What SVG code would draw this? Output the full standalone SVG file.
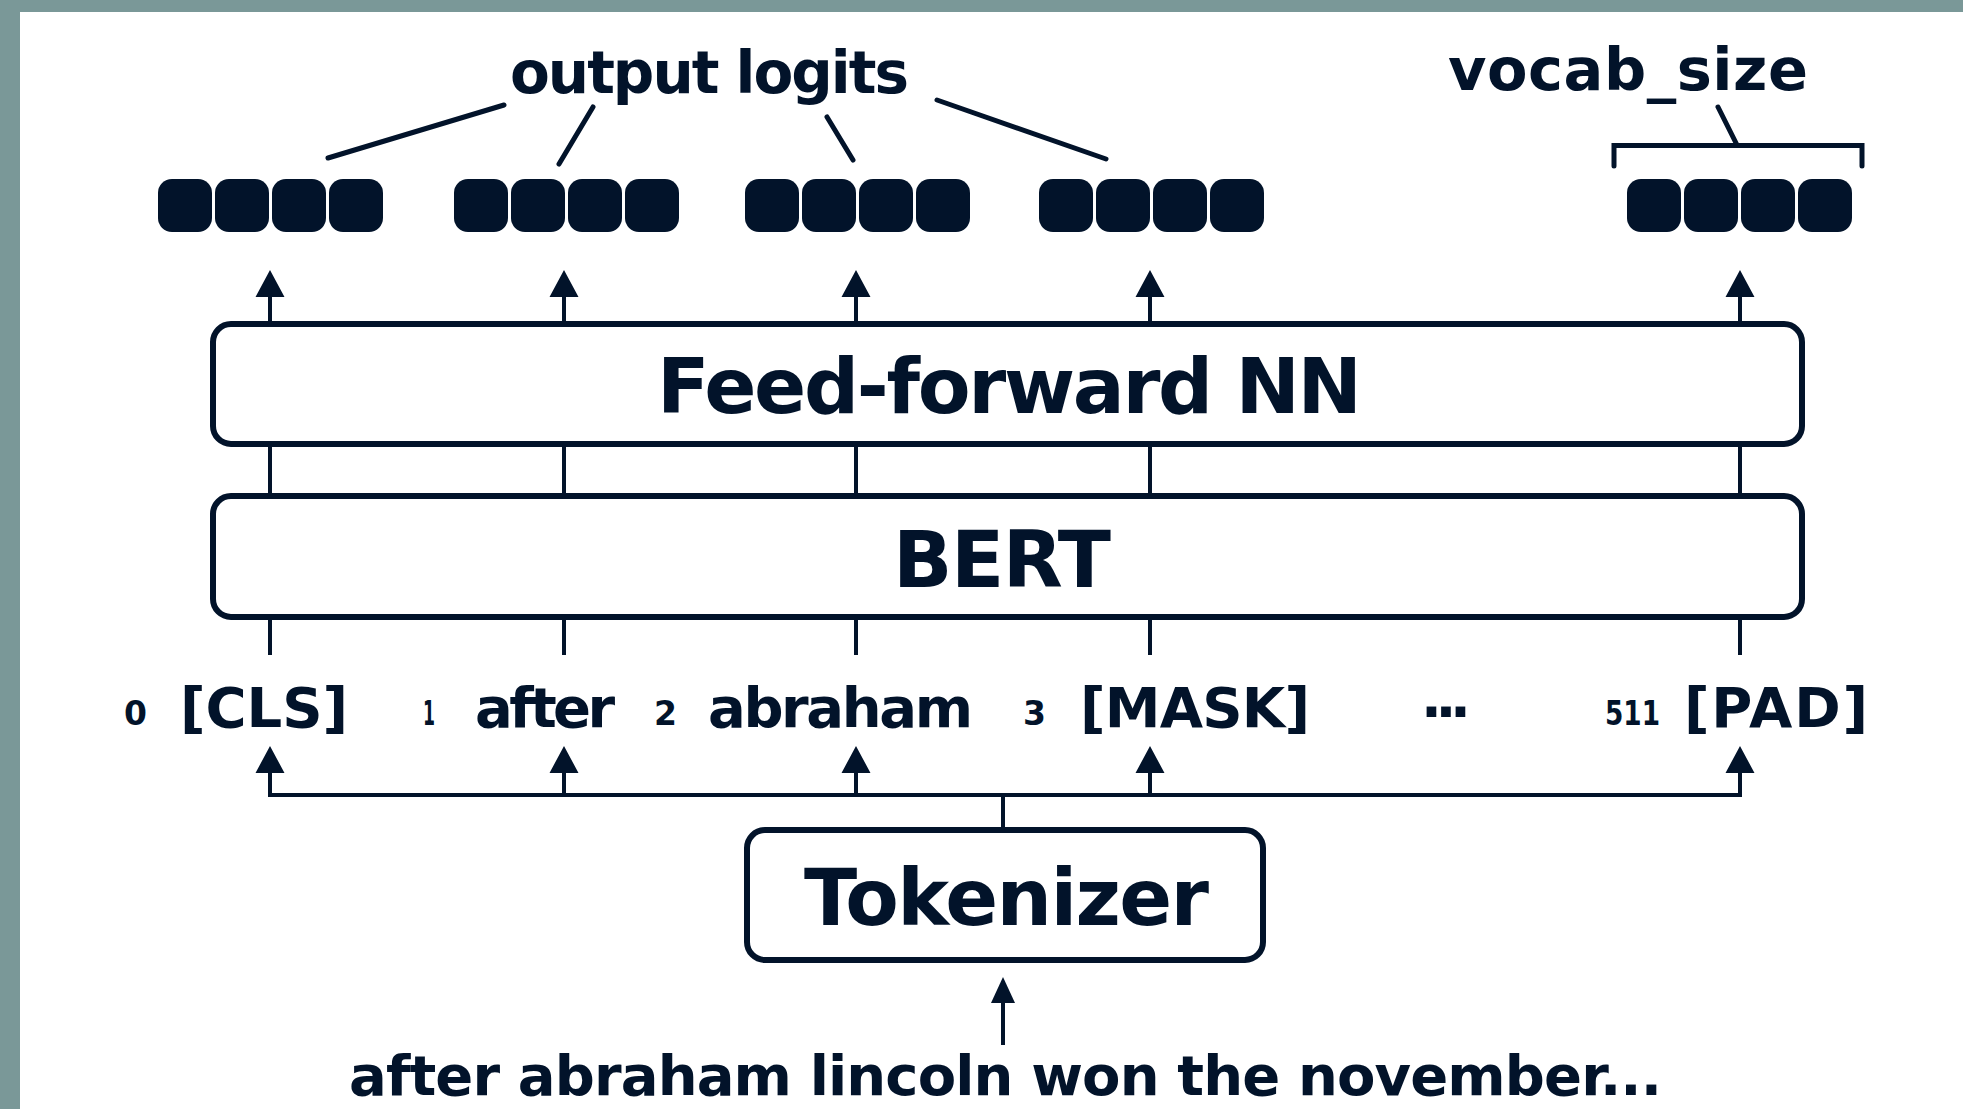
<svg xmlns="http://www.w3.org/2000/svg" width="1963" height="1109" viewBox="0 0 1963 1109">
<defs>
<style>
.t{font-family:"DejaVu Sans","Liberation Sans",sans-serif;font-weight:bold;fill:#02132a}
.box{fill:#fff;stroke:#02132a;stroke-width:6}
.ln{stroke:#02132a;stroke-width:4;fill:none}
.lead{stroke:#02132a;stroke-width:5;fill:none;stroke-linecap:round}
.sq{fill:#02132a}
.ah{fill:#02132a}
</style>
<g id="vec">
<rect class="sq" x="0" y="0" width="54" height="53" rx="14"/>
<rect class="sq" x="57" y="0" width="54" height="53" rx="14"/>
<rect class="sq" x="114" y="0" width="54" height="53" rx="14"/>
<rect class="sq" x="171" y="0" width="54" height="53" rx="14"/>
</g>
</defs>
<rect x="0" y="0" width="1963" height="1109" fill="#fff"/>
<rect x="0" y="0" width="1963" height="12" fill="#7a9898"/>
<rect x="0" y="0" width="20" height="1109" fill="#7a9898"/>

<g id="connectors">
<!-- arrows into logits -->
<path class="ln" d="M270,322 V297 M564,322 V297 M856,322 V297 M1150,322 V297 M1740,322 V297"/>
<path class="ah" d="M255.5,297 L270,270 L284.5,297 Z M549.5,297 L564,270 L578.5,297 Z M841.5,297 L856,270 L870.5,297 Z M1135.5,297 L1150,270 L1164.5,297 Z M1725.5,297 L1740,270 L1754.5,297 Z"/>
<!-- between boxes -->
<path class="ln" d="M270,447 V493 M564,447 V493 M856,447 V493 M1150,447 V493 M1740,447 V493"/>
<!-- below BERT -->
<path class="ln" d="M270,620 V655 M564,620 V655 M856,620 V655 M1150,620 V655 M1740,620 V655"/>
<!-- tokenizer fan-out -->
<path class="ln" d="M270,772 V795 H1740 V772 M564,795 V772 M856,795 V772 M1150,795 V772 M1003,795 V828"/>
<path class="ah" d="M255.5,773 L270,746 L284.5,773 Z M549.5,773 L564,746 L578.5,773 Z M841.5,773 L856,746 L870.5,773 Z M1135.5,773 L1150,746 L1164.5,773 Z M1725.5,773 L1740,746 L1754.5,773 Z"/>
<!-- input arrow -->
<path class="ln" d="M1003,1045 V1000"/>
<path class="ah" d="M991,1003 L1003,977 L1015,1003 Z"/>
<!-- output logits leaders -->
<path class="lead" d="M504,105 L328,158 M593,107 L559,164 M827,117 L853,160 M937,100 L1106,159"/>
<!-- vocab bracket -->
<path class="lead" d="M1614,166 V145.5 H1862 V166 M1718,107 L1737,145"/>
</g>

<g id="logits">
<use href="#vec" x="158" y="179"/>
<use href="#vec" x="454" y="179"/>
<use href="#vec" x="745" y="179"/>
<use href="#vec" x="1039" y="179"/>
<use href="#vec" x="1627" y="179"/>
</g>

<g id="label-output-logits"><text class="t" x="510" y="93" font-size="58" textLength="399">output logits</text></g>
<g id="label-vocab-size"><text class="t" x="1448" y="90" font-size="59" textLength="360">vocab_size</text></g>

<g id="ffnn">
<rect class="box" x="213" y="324" width="1589" height="120" rx="18"/>
<text class="t" x="657" y="413" font-size="77" textLength="705">Feed-forward NN</text>
</g>
<g id="bert">
<rect class="box" x="213" y="496" width="1589" height="121" rx="18"/>
<text class="t" x="893" y="587" font-size="78" textLength="218">BERT</text>
</g>

<g id="tokens">
<text class="t" x="124" y="725" font-size="33" textLength="26">0</text>
<text class="t" x="180" y="727" font-size="56" textLength="168">[CLS]</text>
<text class="t" x="423" y="725" font-size="33" textLength="12" lengthAdjust="spacingAndGlyphs">1</text>
<text class="t" x="475" y="727" font-size="56" textLength="140">after</text>
<text class="t" x="654" y="725" font-size="33" textLength="22">2</text>
<text class="t" x="708" y="727" font-size="56" textLength="265">abraham</text>
<text class="t" x="1023" y="725" font-size="33" textLength="21">3</text>
<text class="t" x="1080" y="727" font-size="56" textLength="230">[MASK]</text>
<text class="t" x="1421" y="717" font-size="55" textLength="50">...</text>
<text class="t" x="1605" y="725" font-size="33" textLength="55" lengthAdjust="spacingAndGlyphs">511</text>
<text class="t" x="1684" y="727" font-size="56" textLength="184">[PAD]</text>
</g>

<g id="tokenizer">
<rect class="box" x="747" y="830" width="516" height="130" rx="18"/>
<text class="t" x="804" y="925" font-size="78" textLength="405">Tokenizer</text>
</g>

<g id="input-text"><text class="t" x="349" y="1095" font-size="56" textLength="1313">after abraham lincoln won the november...</text></g>
</svg>
